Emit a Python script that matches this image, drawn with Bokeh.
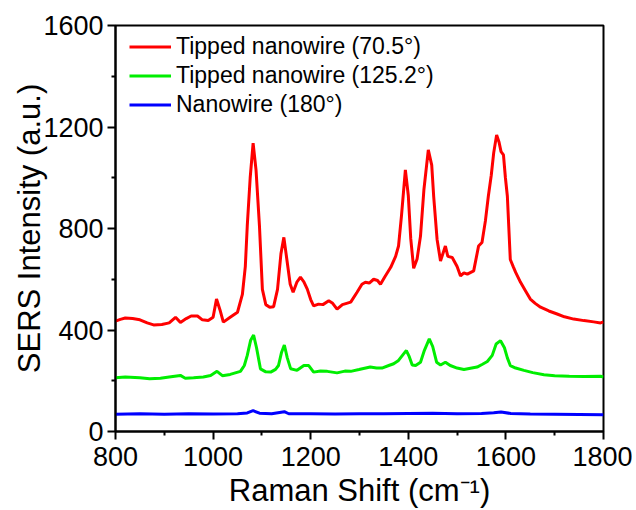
from bokeh.plotting import figure
from bokeh.models import Range1d, FixedTicker, Legend, LegendItem
from bokeh.embed import file_html
from bokeh.resources import INLINE

# ---- data ----
red_x = [800, 810, 820, 835, 850, 865, 878, 895, 910, 923, 933, 945, 955, 968, 978, 990,
         1000, 1007, 1014, 1021, 1035, 1050, 1060, 1066, 1070, 1076, 1082, 1088, 1095, 1101,
         1108, 1116, 1124, 1132, 1139, 1145, 1151, 1158, 1164, 1172, 1179, 1186, 1193, 1200,
         1206, 1216, 1225, 1237, 1245, 1254, 1265, 1282, 1295, 1305, 1312, 1320, 1329, 1337,
         1343, 1352, 1364, 1374, 1380, 1386, 1394, 1400, 1405, 1411, 1418, 1425, 1432, 1441,
         1448, 1452, 1459, 1466, 1476, 1481, 1490, 1500, 1507, 1514, 1521, 1534, 1544, 1551,
         1558, 1564, 1570, 1575, 1581, 1586, 1590, 1595, 1599, 1603, 1609, 1615, 1620, 1630,
         1640, 1650, 1660, 1671, 1688, 1705, 1720, 1739, 1760, 1780, 1794, 1800]
red_y = [435, 442, 447, 445, 440, 428, 420, 422, 428, 450, 430, 445, 455, 455, 440, 437,
         450, 522, 480, 431, 450, 470, 540, 650, 810, 1000, 1136, 1030, 810, 560,
         500, 490, 492, 560, 700, 765, 680, 580, 549, 590, 608, 590, 561, 520,
         495, 502, 500, 515, 505, 482, 500, 510, 549, 580, 588, 585, 600, 595,
         580, 610, 647, 690, 731, 850, 1031, 930, 760, 643, 680, 770, 953, 1110,
         1050, 927, 757, 672, 731, 690, 686, 650, 613, 625, 620, 633, 731, 745,
         830, 927, 1010, 1098, 1169, 1140, 1103, 1090, 1000, 927, 678, 650, 627, 588,
         555, 522, 505, 490, 475, 463, 452, 443, 437, 432, 428, 432]

green_x = [800, 820, 850, 870, 892, 910, 933, 943, 960, 980, 995, 1008, 1019, 1035, 1056,
           1064, 1070, 1077, 1083, 1089, 1097, 1108, 1118, 1128, 1134, 1140, 1146, 1152,
           1159, 1172, 1186, 1196, 1206, 1220, 1234, 1254, 1270, 1282, 1299, 1322, 1335,
           1346, 1360, 1370, 1380, 1390, 1396, 1402, 1408, 1415, 1425, 1433, 1443, 1450,
           1458, 1466, 1476, 1486, 1500, 1514, 1530, 1541, 1552, 1562, 1572, 1580, 1589,
           1597, 1603, 1609, 1620, 1637, 1655, 1678, 1700, 1730, 1760, 1794, 1800]
green_y = [212, 215, 212, 208, 210, 215, 221, 210, 212, 215, 221, 237, 220, 225, 237,
           260, 300, 360, 380, 330, 247, 235, 234, 245, 260, 310, 341, 290,
           247, 241, 260, 260, 234, 238, 237, 231, 238, 237, 244, 254, 250,
           250, 260, 267, 280, 305, 319, 295, 262, 260, 273, 320, 365, 335,
           273, 262, 273, 260, 250, 244, 250, 254, 265, 276, 300, 345, 358,
           330, 290, 260, 250, 241, 232, 224, 220, 218, 217, 218, 215]

blue_x = [800, 850, 900, 950, 1000, 1050, 1070, 1082, 1095, 1120, 1146, 1155, 1200, 1250,
          1300, 1350, 1400, 1450, 1500, 1550, 1575, 1590, 1610, 1650, 1700, 1750, 1800]
blue_y = [68, 70, 68, 70, 69, 70, 73, 82, 72, 70, 78, 70, 70, 69,
          70, 70, 71, 72, 70, 71, 74, 77, 71, 69, 68, 67, 66]

series_labels = ["Tipped nanowire (70.5\u00b0)", "Tipped nanowire (125.2\u00b0)", "Nanowire (180\u00b0)"]
x_ticks = [800, 1000, 1200, 1400, 1600, 1800]
x_minor = [900, 1100, 1300, 1500, 1700]
y_ticks = [0, 400, 800, 1200, 1600]
y_minor = [200, 600, 1000, 1400]

FONT = "Liberation Sans"

p = figure(width=632, height=510, output_backend="svg", toolbar_location=None,
           x_range=Range1d(800, 1800), y_range=Range1d(0, 1600),
           min_border_left=115, min_border_right=29, min_border_top=25, min_border_bottom=77)

r1 = p.line(red_x, red_y, line_color="#ff0000", line_width=3)
r2 = p.line(green_x, green_y, line_color="#00ee00", line_width=3)
r3 = p.line(blue_x, blue_y, line_color="#0000ff", line_width=3)

p.xgrid.visible = False
p.ygrid.visible = False
p.outline_line_color = "black"
p.outline_line_width = 2
p.outline_line_alpha = 1
p.background_fill_color = "white"
p.border_fill_color = "white"

p.xaxis.ticker = FixedTicker(ticks=x_ticks, minor_ticks=x_minor)
p.yaxis.ticker = FixedTicker(ticks=y_ticks, minor_ticks=y_minor)
p.xaxis.axis_label = "Raman Shift (cm\u207b\u00b9)"
p.yaxis.axis_label = "SERS Intensity (a.u.)"

for ax in (p.xaxis, p.yaxis):
    ax.axis_line_width = 2
    ax.axis_line_color = "black"
    ax.major_tick_line_width = 2
    ax.minor_tick_line_width = 2
    ax.major_tick_line_color = "black"
    ax.minor_tick_line_color = "black"
    ax.major_tick_out = 8
    ax.major_tick_in = 0
    ax.minor_tick_out = 4
    ax.minor_tick_in = 0
    ax.major_label_text_font = FONT
    ax.major_label_text_font_size = "27px"
    ax.major_label_text_color = "black"
    ax.axis_label_text_font = FONT
    ax.axis_label_text_font_size = "31px"
    ax.axis_label_text_font_style = "normal"
    ax.axis_label_text_color = "black"

p.xaxis.major_label_standoff = 7
p.xaxis.axis_label_standoff = 4
p.yaxis.major_label_standoff = 4
p.yaxis.axis_label_standoff = -7

legend = Legend(items=[LegendItem(label=series_labels[0], renderers=[r1]),
                       LegendItem(label=series_labels[1], renderers=[r2]),
                       LegendItem(label=series_labels[2], renderers=[r3])],
                location=(14, 312), orientation="vertical")
legend.border_line_color = None
legend.background_fill_alpha = 0
legend.label_text_font = FONT
legend.label_text_font_size = "23px"
legend.label_text_color = "black"
legend.glyph_width = 42
legend.glyph_height = 29
legend.label_height = 29
legend.label_standoff = 5
legend.spacing = 0
legend.padding = 0
legend.margin = 0
p.add_layout(legend)

open("out.html", "w").write(file_html(p, INLINE))
